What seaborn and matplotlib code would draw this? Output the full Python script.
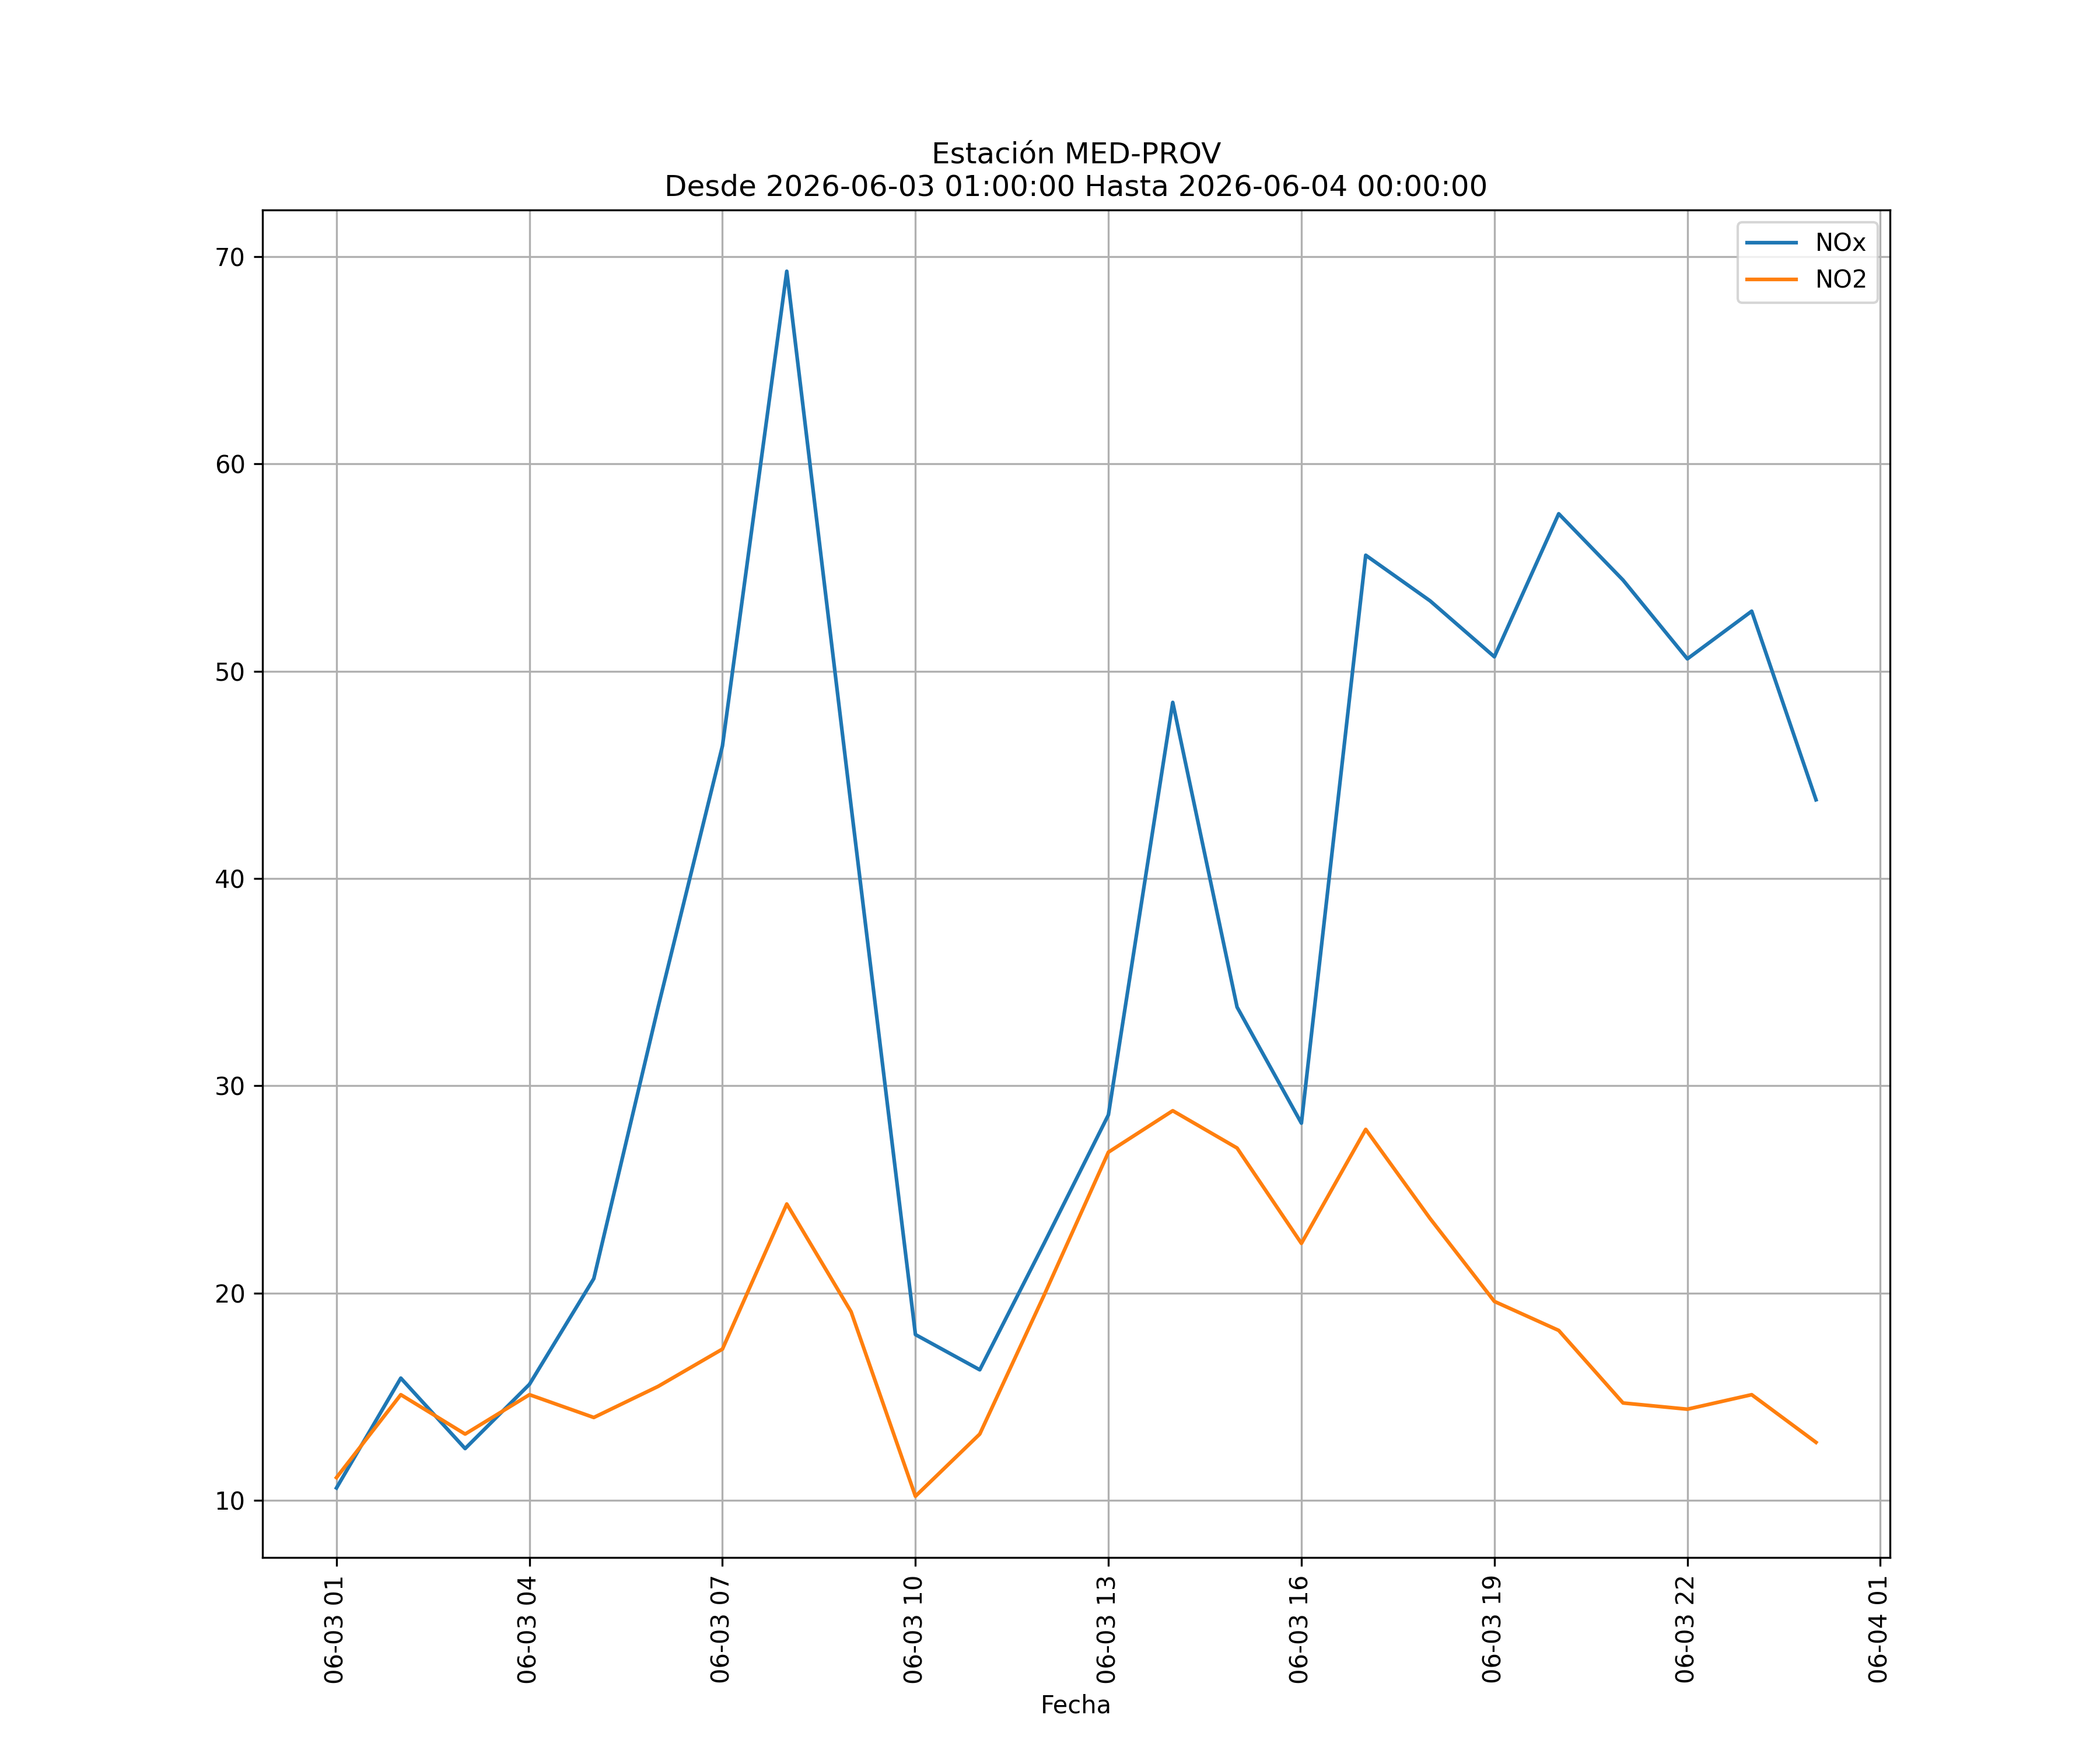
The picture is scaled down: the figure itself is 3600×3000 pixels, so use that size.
import pandas as pd
import matplotlib
matplotlib.use('Agg')
import matplotlib.pyplot as plt
import matplotlib.dates as mdates
import seaborn as sns

# Hourly values
fechas = pd.date_range('2026-06-03 01:00', '2026-06-04 00:00', freq='h')
nox = [10.6, 15.9, 12.5, 15.6, 20.7, 33.8, 46.4, 69.3, 43.5, 18.0, 16.3, 22.4,
       28.6, 48.5, 33.8, 28.2, 55.6, 53.4, 50.7, 57.6, 54.4, 50.6, 52.9, 43.8]
no2 = [11.1, 15.1, 13.2, 15.1, 14.0, 15.5, 17.3, 24.3, 19.1, 10.2, 13.2, 19.9,
       26.8, 28.8, 27.0, 22.4, 27.9, 23.6, 19.6, 18.2, 14.7, 14.4, 15.1, 12.8]

df = pd.DataFrame({'Fecha': fechas, 'NOx': nox, 'NO2': no2})

fig, ax = plt.subplots(figsize=(12, 10), dpi=300)
sns.lineplot(data=df, x='Fecha', y='NOx', ax=ax, label='NOx', color='#1f77b4')
sns.lineplot(data=df, x='Fecha', y='NO2', ax=ax, label='NO2', color='#ff7f0e')

ax.xaxis.set_major_locator(mdates.HourLocator(byhour=range(1, 24, 3)))
ax.xaxis.set_major_formatter(mdates.DateFormatter('%m-%d %H'))
plt.xticks(rotation=90)
ax.set_xlabel('Fecha')
ax.set_ylabel('')
ax.set_title('Estación MED-PROV\nDesde 2026-06-03 01:00:00 Hasta 2026-06-04 00:00:00')
ax.grid(True)
ax.legend(loc='upper right')

fig.savefig('out.png')
